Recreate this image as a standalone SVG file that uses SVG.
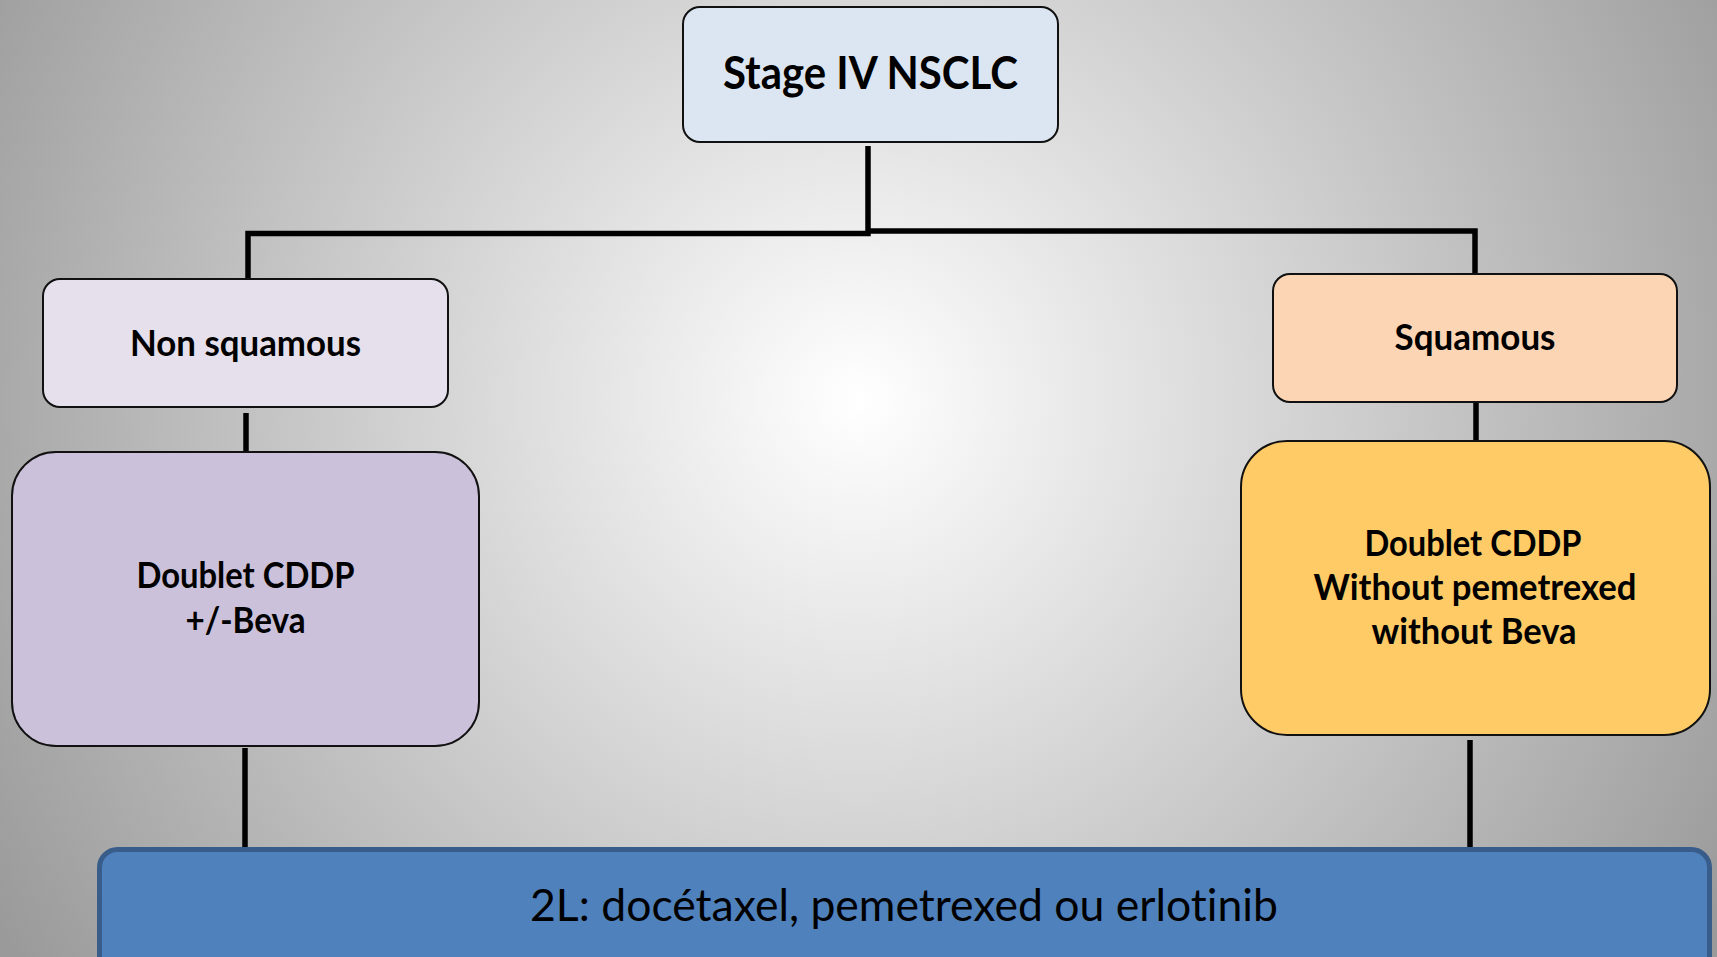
<svg xmlns="http://www.w3.org/2000/svg" width="1717" height="957" viewBox="0 0 1717 957">
  <defs>
    <radialGradient id="bg" gradientUnits="userSpaceOnUse" cx="858" cy="400" r="1010">
      <stop offset="0" stop-color="#FFFFFF"/>
      <stop offset="1" stop-color="#9A9A9A"/>
    </radialGradient>
  </defs>
  <style>
    .box { stroke: #111111; stroke-width: 2; }
    .wire { fill: none; stroke: #000000; stroke-width: 5.5; stroke-linecap: butt; stroke-linejoin: miter; }
    .lbl { font-family: Lato, "Open Sans", "Liberation Sans", sans-serif; font-weight: bold; font-size: 35.5px; fill: #000000; text-anchor: middle; font-variant-ligatures: none; }
    .title { font-size: 45px; }
    .plain { font-weight: normal; font-size: 45px; }
  </style>

  <!-- backdrop -->
  <rect x="0" y="0" width="1717" height="957" fill="url(#bg)"/>

  <!-- connectors -->
  <g id="connectors">
    <path class="wire" d="M868,146 V233.5 H248 V279"/>
    <path class="wire" d="M868,231 H1475 V274"/>
    <path class="wire" d="M246,413 V452"/>
    <path class="wire" d="M1476,402 V441"/>
    <path class="wire" d="M245,748 V856"/>
    <path class="wire" d="M1470,740 V848"/>
  </g>

  <!-- root -->
  <g id="stage-iv">
    <rect class="box" x="683" y="7" width="375" height="135" rx="17" fill="#DCE6F2"/>
    <text class="lbl title" x="870.5" y="89" textLength="295" lengthAdjust="spacingAndGlyphs">Stage IV NSCLC</text>
  </g>

  <!-- histology branches -->
  <g id="non-squamous">
    <rect class="box" x="43" y="279" width="405" height="128" rx="17" fill="#E5E0EC"/>
    <text class="lbl" x="245.5" y="356" textLength="231" lengthAdjust="spacingAndGlyphs">Non squamous</text>
  </g>

  <g id="squamous">
    <rect class="box" x="1273" y="274" width="404" height="128" rx="17" fill="#FCD5B5"/>
    <text class="lbl" x="1475" y="350" textLength="161" lengthAdjust="spacingAndGlyphs">Squamous</text>
  </g>

  <!-- first-line regimens -->
  <g id="doublet-nonsq">
    <rect class="box" x="12" y="452" width="467" height="294" rx="44" fill="#CCC1DA"/>
    <text class="lbl" x="245.5" y="588" textLength="218" lengthAdjust="spacingAndGlyphs">Doublet CDDP</text>
    <text class="lbl" x="245.5" y="633" textLength="120" lengthAdjust="spacingAndGlyphs">+/-Beva</text>
  </g>

  <g id="doublet-sq">
    <rect class="box" x="1241" y="441" width="469" height="294" rx="46" fill="#FECB66"/>
    <text class="lbl" x="1473" y="556" textLength="217" lengthAdjust="spacingAndGlyphs">Doublet CDDP</text>
    <text class="lbl" x="1475" y="600" textLength="323" lengthAdjust="spacingAndGlyphs">Without pemetrexed</text>
    <text class="lbl" x="1474" y="644" textLength="205" lengthAdjust="spacingAndGlyphs">without Beva</text>
  </g>

  <!-- second line -->
  <g id="second-line">
    <rect x="99.5" y="849.5" width="1610" height="130" rx="18" fill="#4F81BD" stroke="#385D8A" stroke-width="5"/>
    <text class="lbl plain" x="904" y="921" textLength="748" lengthAdjust="spacingAndGlyphs">2L: docétaxel, pemetrexed ou erlotinib</text>
  </g>
</svg>
